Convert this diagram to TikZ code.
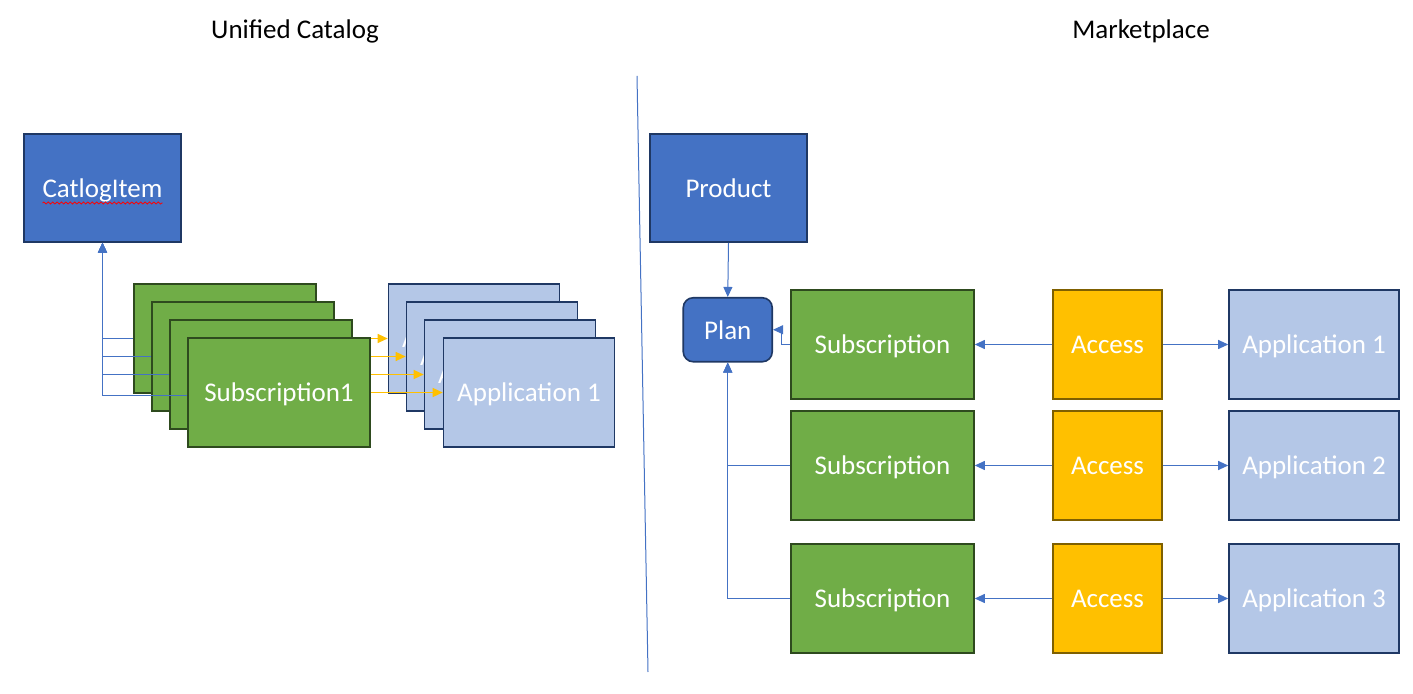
\documentclass[tikz,border=0pt]{standalone}
\usepackage{fontspec}
\setmainfont{Carlito}
\usetikzlibrary{arrows.meta,decorations.pathmorphing}
\pgfdeclarelayer{back}
\pgfdeclarelayer{mid}
\pgfsetlayers{back,mid,main}
\definecolor{dblue}{HTML}{4472C4}
\definecolor{dblueb}{HTML}{1F3864}
\definecolor{lblue}{HTML}{B4C7E7}
\definecolor{gfill}{HTML}{70AD47}
\definecolor{gborder}{HTML}{2E4A1E}
\definecolor{yfill}{HTML}{FFC000}
\definecolor{yborder}{HTML}{7F6000}
\definecolor{conncol}{HTML}{4472C4}
\tikzset{
  box/.style={draw, line width=0.8pt, inner sep=0pt, text=white, text height=10pt, text depth=0.5pt, font=\fontsize{13.5}{16}\selectfont},
  darkbox/.style={box, fill=dblue, draw=dblueb, minimum width=78.5pt, minimum height=54pt},
  planbox/.style={box, fill=dblue, draw=dblueb, rounded corners=5pt, minimum width=44.5pt, minimum height=32pt},
  subbox/.style={box, fill=gfill, draw=gborder, minimum width=91pt, minimum height=54.5pt},
  rsubbox/.style={box, fill=gfill, draw=gborder, minimum width=91.5pt, minimum height=54.5pt},
  appbox/.style={box, fill=lblue, draw=dblueb, minimum width=85.5pt, minimum height=54.5pt},
  rappbox/.style={box, fill=lblue, draw=dblueb, minimum width=85pt, minimum height=54.5pt},
  accbox/.style={box, fill=yfill, draw=yborder, minimum width=54.5pt, minimum height=54.5pt},
  conn/.style={draw=conncol, line width=0.5pt, -{Triangle[length=5pt,width=4.5pt]}},
  yconn/.style={draw=yfill, line width=0.6pt, -{Triangle[length=5pt,width=4.5pt]}},
  title/.style={font=\fontsize{13.5}{16}\selectfont, text=black}
}
\begin{document}
\begin{tikzpicture}[x=0.5pt,y=-0.5pt]
\useasboundingbox (0,0) rectangle (1413,694);
% titles
\node[title] (t1) at (295,31) {Unified Catalog};
\node[title] (t2) at (1141,31) {Marketplace};
% divider
\coordinate (d1) at (637,76);
\coordinate (d2) at (648,672);
\draw[conncol, line width=0.5pt] (d1) -- (d2);
% left side
\node[darkbox] (cat) at (102.5,188) {CatlogItem};
\draw[red, line width=0.4pt, decorate, decoration={snake,amplitude=0.5pt,segment length=2.2pt}]
  ([shift={(-60,15)}]cat.center) -- ([shift={(60,15)}]cat.center);
\begin{pgfonlayer}{back}
\node[appbox] (b1) at (474,338.5) {Application 1};
\node[appbox] (b2) at (492,356.5) {Application 1};
\node[appbox] (b3) at (510,374.5) {Application 1};
\node[appbox] (b4) at (529,392.5) {Application 1};
\end{pgfonlayer}
\node[subbox] (g1) at (225,338.5) {Subscription1};
\node[subbox] (g2) at (243,356.5) {Subscription1};
\node[subbox] (g3) at (261,374.5) {Subscription1};
\node[subbox] (g4) at (279,392.5) {Subscription1};
\begin{pgfonlayer}{mid}
\draw[yconn] (g1.east) -- (b1.west);
\draw[yconn] (g2.east) -- (b2.west);
\draw[yconn] (g3.east) -- (b3.west);
\draw[yconn] (g4.east) -- (b4.west);
\end{pgfonlayer}
\draw[conn] (g1.west) -| (cat.south);
\draw[conn] (g2.west) -| (cat.south);
\draw[conn] (g3.west) -| (cat.south);
\draw[conn] ([yshift=-1.5pt]g4.west) -| (cat.south);
% right side
\node[darkbox] (prod) at (728.5,188) {Product};
\node[planbox] (plan) at (727.75,329.75) {Plan};
\node[rsubbox] (s1) at (882.5,344.5) {Subscription};
\node[rsubbox] (s2) at (882.5,465.5) {Subscription};
\node[rsubbox] (s3) at (882.5,598.5) {Subscription};
\node[accbox] (a1) at (1107.5,344.5) {Access};
\node[accbox] (a2) at (1107.5,465.5) {Access};
\node[accbox] (a3) at (1107.5,598.5) {Access};
\node[rappbox] (p1) at (1314,344.5) {Application 1};
\node[rappbox] (p2) at (1314,465.5) {Application 2};
\node[rappbox] (p3) at (1314,598.5) {Application 3};
\draw[conn] (prod.south) -- (plan.north);
\draw[conn] (s1.west) -- ++(-9,0) |- (plan.east);
\draw[conn] (s2.west) -| (plan.south);
\draw[conn] (s3.west) -| (plan.south);
\draw[conn] (a1.west) -- (s1.east);
\draw[conn] (a2.west) -- (s2.east);
\draw[conn] (a3.west) -- (s3.east);
\draw[conn] (a1.east) -- (p1.west);
\draw[conn] (a2.east) -- (p2.west);
\draw[conn] (a3.east) -- (p3.west);
\end{tikzpicture}
\end{document}
